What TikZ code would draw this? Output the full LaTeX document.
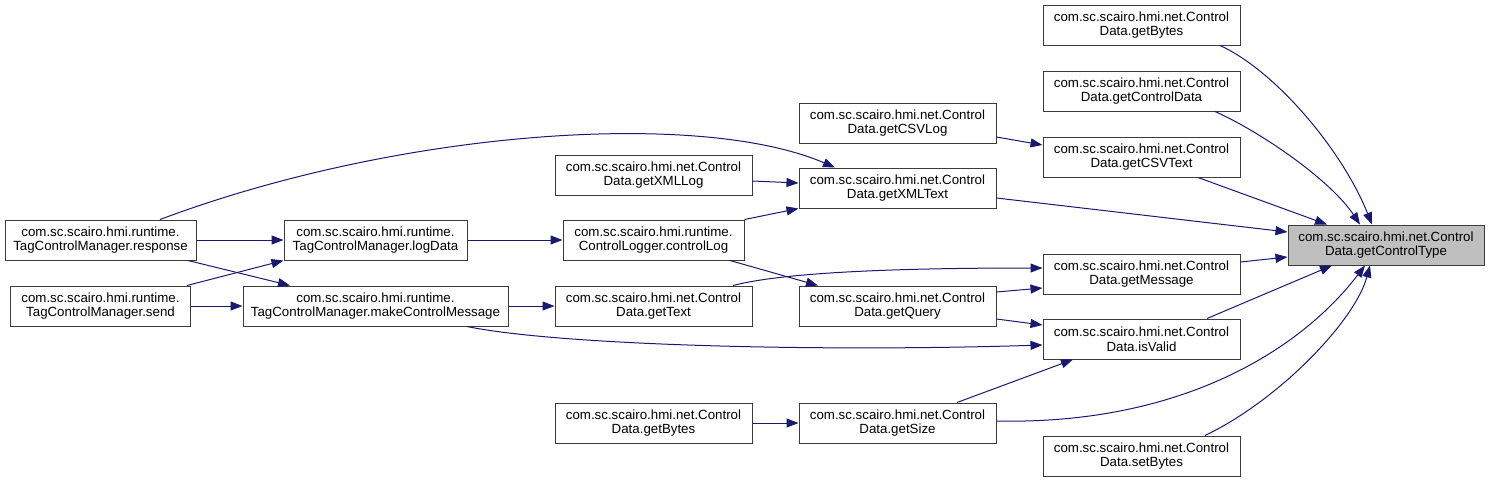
\documentclass[tikz,border=0pt]{standalone}
\usepackage{fontspec}
\setmainfont{Liberation Sans}
\usepackage{tikz}
\usetikzlibrary{arrows.meta, positioning, calc}
\definecolor{edgeblue}{RGB}{25,25,112}
\definecolor{boxline}{RGB}{60,60,60}
\definecolor{hlgray}{RGB}{191,191,191}
\tikzset{
  fnbox/.style={rectangle, draw=boxline, fill=white,
    minimum width=197pt, minimum height=40pt, inner sep=0pt,
    align=center, line width=1pt,
    font=\fontsize{13.3}{14.5}\selectfont},
  hlbox/.style={fnbox, fill=hlgray},
  arrow/.style={-{Triangle[length=12pt, width=9pt]}, line width=1pt, color=edgeblue}
}

\begin{document}
\begin{tikzpicture}[x=1pt, y=-1pt]
  \useasboundingbox (0,0) rectangle (1489,483);

  % called function
  \node[hlbox, minimum width=196pt] (gct) at (1386,245) {com.sc.scairo.hmi.net.Control\\Data.getControlType};

  % direct callers
  \node[fnbox] (bytesA)   at (1141.5,25)  {com.sc.scairo.hmi.net.Control\\Data.getBytes};
  \node[fnbox] (ctrldata) at (1141.5,91)  {com.sc.scairo.hmi.net.Control\\Data.getControlData};
  \node[fnbox] (csvtext)  at (1141.5,157) {com.sc.scairo.hmi.net.Control\\Data.getCSVText};
  \node[fnbox] (message)  at (1141.5,274) {com.sc.scairo.hmi.net.Control\\Data.getMessage};
  \node[fnbox] (isvalid)  at (1141.5,339) {com.sc.scairo.hmi.net.Control\\Data.isValid};
  \node[fnbox] (setbytes) at (1141.5,456) {com.sc.scairo.hmi.net.Control\\Data.setBytes};

  \node[fnbox] (csvlog)   at (897.5,123) {com.sc.scairo.hmi.net.Control\\Data.getCSVLog};
  \node[fnbox] (xmltext)  at (897.5,188) {com.sc.scairo.hmi.net.Control\\Data.getXMLText};
  \node[fnbox] (query)    at (897.5,306) {com.sc.scairo.hmi.net.Control\\Data.getQuery};
  \node[fnbox] (size)     at (897.5,423) {com.sc.scairo.hmi.net.Control\\Data.getSize};

  \node[fnbox] (xmllog)   at (653.5,175) {com.sc.scairo.hmi.net.Control\\Data.getXMLLog};
  \node[fnbox, minimum width=181pt] (ctrllog) at (653.5,240) {com.sc.scairo.hmi.runtime.\\ControlLogger.controlLog};
  \node[fnbox] (text)     at (653.5,306) {com.sc.scairo.hmi.net.Control\\Data.getText};
  \node[fnbox] (bytesB)   at (653.5,423) {com.sc.scairo.hmi.net.Control\\Data.getBytes};

  \node[fnbox, minimum width=183pt] (logdata) at (375.5,240) {com.sc.scairo.hmi.runtime.\\TagControlManager.logData};
  \node[fnbox, minimum width=265pt] (makemsg) at (375.5,306) {com.sc.scairo.hmi.runtime.\\TagControlManager.makeControlMessage};

  \node[fnbox, minimum width=191pt] (response) at (100.5,240) {com.sc.scairo.hmi.runtime.\\TagControlManager.response};
  \node[fnbox, minimum width=180pt] (send)     at (100.5,306) {com.sc.scairo.hmi.runtime.\\TagControlManager.send};

  % edges into getControlType
  \draw[arrow] ([xshift=78.5pt]bytesA.south) .. controls +(55,25) and +(-30,-75) .. ([xshift=-14pt]gct.north);
  \draw[arrow] ([xshift=73.5pt]ctrldata.south) .. controls +(45,20) and +(-30,-45) .. ([xshift=-26pt]gct.north);
  \draw[arrow] ([xshift=56.5pt]csvtext.south) -- ([xshift=-59pt]gct.north);
  \draw[arrow] ([yshift=-10pt]xmltext.east) -- ([yshift=13pt]gct.west);
  \draw[arrow] ([yshift=12pt]message.east) -- ([yshift=-12pt]gct.west);
  \draw[arrow] ([xshift=65.5pt]isvalid.north) -- ([xshift=-54pt]gct.south);
  \draw[arrow] ([yshift=2pt]size.east) .. controls +(184,4) and +(-65,85) .. ([xshift=-21pt]gct.south);
  \draw[arrow] ([xshift=63.5pt]setbytes.north) .. controls +(75,-36) and +(-15,55) .. ([xshift=-16pt]gct.south);

  % remaining calls
  \draw[arrow] ([yshift=-14pt]csvlog.east) -- ([yshift=12pt]csvtext.west);
  \draw[arrow] ([xshift=59.5pt]response.north) .. controls +(240,-90) and +(-135,-58) .. ([xshift=-62.5pt]xmltext.north);
  \draw[arrow] ([yshift=-6pt]xmllog.east) -- ([yshift=5pt]xmltext.west);
  \draw[arrow] (ctrllog.north east) -- (xmltext.south west);
  \draw[arrow] (response.east) -- (logdata.west);
  \draw[arrow] ([xshift=86.5pt]send.north) -- (logdata.south west);
  \draw[arrow] ([xshift=87.5pt]response.south) -- ([xshift=-85.5pt]makemsg.north);
  \draw[arrow] (send.east) -- (makemsg.west);
  \draw[arrow] (logdata.east) -- (ctrllog.west);
  \draw[arrow] ([xshift=76.5pt]ctrllog.south) -- ([xshift=-79.5pt]query.north);
  \draw[arrow] ([xshift=79.5pt]text.north) .. controls +(50,-13) and +(-150,0) .. ([yshift=6pt]message.west);
  \draw[arrow] (makemsg.east) -- (text.west);
  \draw[arrow] ([yshift=14pt]query.east) -- ([yshift=-14pt]message.west);
  \draw[arrow] ([yshift=-13pt]query.east) -- ([yshift=14pt]isvalid.west);
  \draw[arrow] ([xshift=91.5pt]makemsg.south) .. controls +(93,19) and +(-223,7) .. ([yshift=-6pt]isvalid.west);
  \draw[arrow] ([xshift=59.5pt]size.north) -- ([xshift=-68.5pt]isvalid.south);
  \draw[arrow] (bytesB.east) -- (size.west);
\end{tikzpicture}
\end{document}
